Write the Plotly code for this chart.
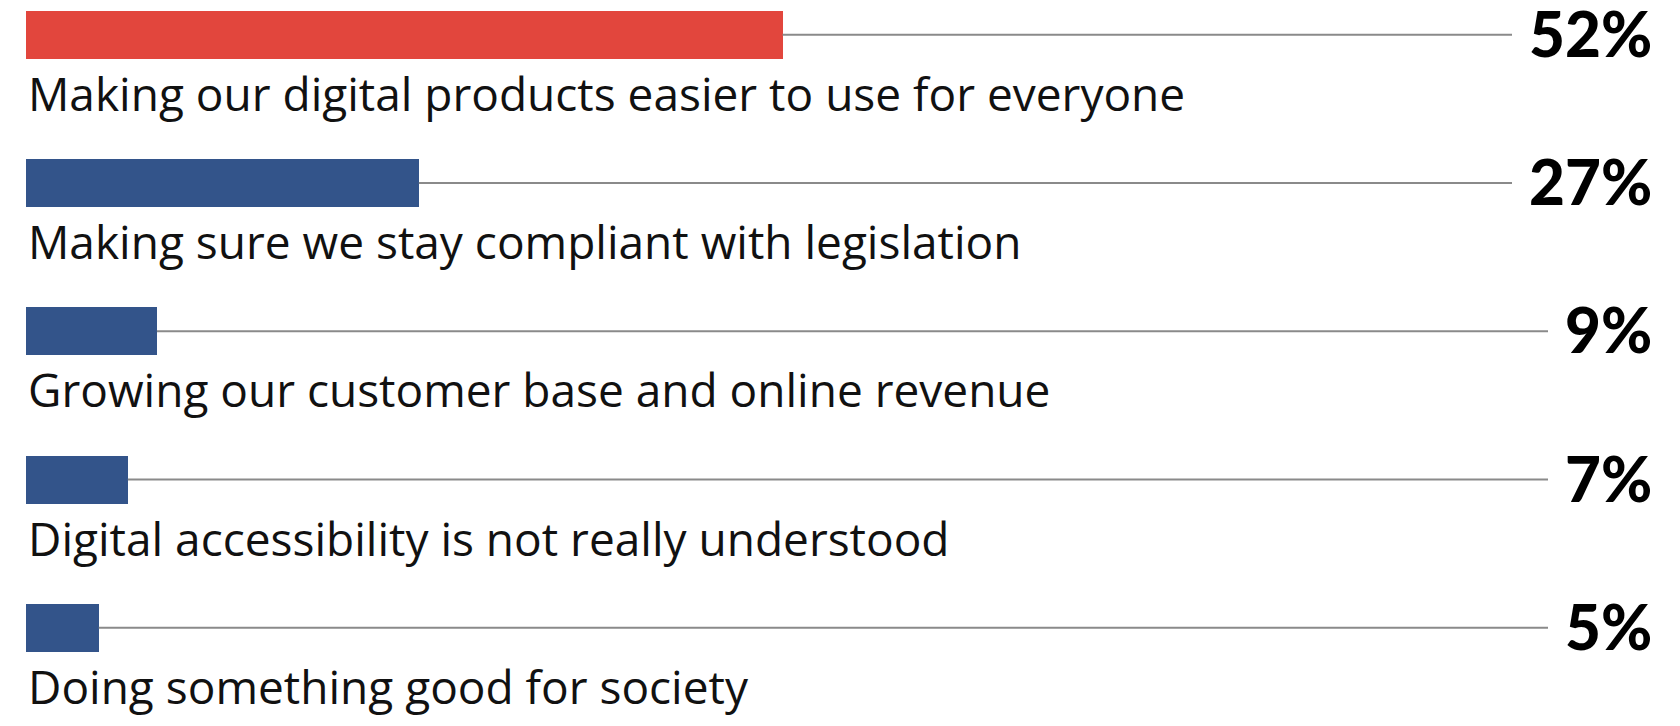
import plotly.graph_objects as go

# data
categories = [
    "Making our digital products easier to use for everyone",
    "Making sure we stay compliant with legislation",
    "Growing our customer base and online revenue",
    "Digital accessibility is not really understood",
    "Doing something good for society",
]
values = [52, 27, 9, 7, 5]
value_labels = ["52%", "27%", "9%", "7%", "5%"]
bar_colors = ["#E2463D", "#33548A", "#33548A", "#33548A", "#33548A"]

# the page body adds an 8px margin, so the figure is 16px smaller than the window
W, H = 1664, 710
px_per_unit = 14.55          # horizontal scale (pixels per percent)
left_px = 18                 # where 0% sits
row_px = 148.25              # vertical distance between rows
first_row_px = 26.8          # centre of first bar
label_right_px = 1645
digit_w, pct_w, gap = 36, 53, 16   # rough glyph widths of the big labels

rows = list(range(len(categories)))

fig = go.Figure()

# thin gray track lines from bar end up to just before the percentage label
for i, (v, lab) in enumerate(zip(values, value_labels)):
    end_px = label_right_px - (digit_w * (len(lab) - 1) + pct_w) - gap
    track_end = (end_px - left_px) / px_per_unit
    fig.add_trace(go.Scatter(
        x=[v, track_end], y=[i, i],
        mode="lines",
        line=dict(color="#8a8a8a", width=2),
        hoverinfo="skip",
        showlegend=False,
    ))

fig.add_trace(go.Bar(
    x=values, y=rows,
    orientation="h",
    width=48 / row_px,
    marker=dict(color=bar_colors, line=dict(width=0)),
    hoverinfo="skip",
    showlegend=False,
))

# category labels under each bar
for i, cat in enumerate(categories):
    fig.add_annotation(
        x=0, y=i + 58 / row_px, xref="x", yref="y",
        text=cat, showarrow=False,
        xanchor="left", yanchor="middle",
        font=dict(family="Open Sans", size=46, color="#111111"),
    )

# percentage labels on the right
for i, lab in enumerate(value_labels):
    fig.add_annotation(
        x=label_right_px / W, y=i - 2 / row_px, xref="paper", yref="y",
        text=lab, showarrow=False,
        xanchor="right", yanchor="middle",
        height=52, valign="middle", borderpad=0,
        font=dict(family="Lato", size=62, color="#000000", weight=900),
    )

fig.update_xaxes(
    range=[-left_px / px_per_unit, (W - left_px) / px_per_unit],
    visible=False, fixedrange=True,
)
fig.update_yaxes(
    range=[(H - first_row_px) / row_px, -first_row_px / row_px],
    visible=False, fixedrange=True,
)
fig.update_layout(
    width=W, height=H,
    margin=dict(l=0, r=0, t=0, b=0),
    plot_bgcolor="white", paper_bgcolor="white",
    bargap=0,
)

fig.write_html("out.html", config={"displayModeBar": False})
